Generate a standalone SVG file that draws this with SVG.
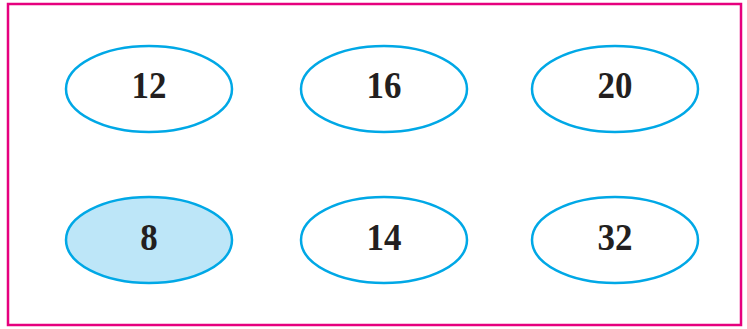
<svg xmlns="http://www.w3.org/2000/svg" width="747" height="329" viewBox="0 0 747 329">
<style>
.n{fill:#fff;stroke:#00a8e6;stroke-width:2.5}
.h{fill:#bde6f8}
.t{font-family:"Liberation Serif","Times New Roman",serif;font-weight:bold;font-size:38px;fill:#231f20;text-anchor:middle}
</style>
<rect x="8" y="4" width="733" height="321" fill="#fff" stroke="#e6007e" stroke-width="2.5"/>
<g id="connectors"></g>
<g id="n12"><ellipse class="n" cx="149" cy="89" rx="83" ry="43"/><text class="t" transform="translate(149 98) scale(0.92 1)">12</text></g>
<g id="n16"><ellipse class="n" cx="384" cy="89" rx="83" ry="43"/><text class="t" transform="translate(384 98) scale(0.92 1)">16</text></g>
<g id="n20"><ellipse class="n" cx="615" cy="89" rx="83" ry="43"/><text class="t" transform="translate(615 98) scale(0.92 1)">20</text></g>
<g id="n8"><ellipse class="n h" cx="149" cy="240" rx="83" ry="43"/><text class="t" transform="translate(149 250) scale(0.92 1)">8</text></g>
<g id="n14"><ellipse class="n" cx="384" cy="240" rx="83" ry="43"/><text class="t" transform="translate(384 250) scale(0.92 1)">14</text></g>
<g id="n32"><ellipse class="n" cx="615" cy="240" rx="83" ry="43"/><text class="t" transform="translate(615 250) scale(0.92 1)">32</text></g>
</svg>
